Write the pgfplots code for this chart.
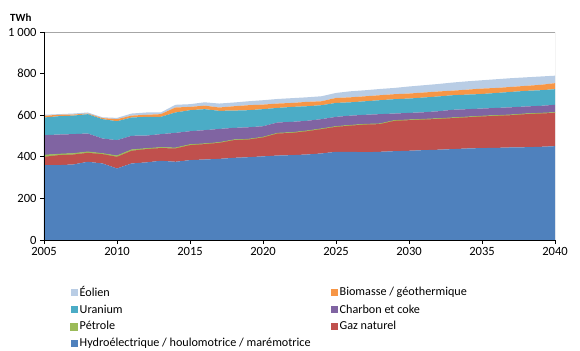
\documentclass[border=0pt]{standalone}
\usepackage{fontspec}
\setmainfont{Carlito}
\usepackage{pgfplots}
\pgfplotsset{compat=1.18}
\usepackage{pgfplotstable}

\definecolor{hydro}{HTML}{4F81BD}
\definecolor{gaz}{HTML}{C0504D}
\definecolor{petrole}{HTML}{9BBB59}
\definecolor{charbon}{HTML}{8064A2}
\definecolor{uranium}{HTML}{4BACC6}
\definecolor{biomasse}{HTML}{F79646}
\definecolor{eolien}{HTML}{B9CDE5}

% production d'electricite par source (TWh)
\pgfplotstableread{
year hydro gaz petrole charbon uranium biomasse eolien
2005 360 40 8 96 85 8 5
2006 360 48 5 94 88 7 3
2007 363 48 5 93 89 5 5
2008 376 43 5 88 93 3 5
2009 368 45 3 72 93 5 4
2010 344 56 5 75 91 10 6
2011 368 61 5 67 88 9 10
2012 373 64 3 62 90 10 11
2013 381 61 3 64 83 13 8
2014 376 64 3 72 98 24 13
2015 384 72 3 64 101 16 13
2016 387 74 2 65 101 17 16
2017 390 77 2 65 87 16 19
2018 395 85 2 57 83 21 18
2019 398 85 2 57 82 24 19
2020 402 91 2 52 82 22 21
2021 406 106 2 51 70 21 22
2022 408 107 2 51 72 19 23
2023 411 112 2 48 70 21 22
2024 416 117 2 46 67 19 24
2025 424 120 2 46 67 24 24
2026 424 126 2 46 64 24 29
2027 422 133 2 45 65 24 29
2028 424 133 2 46 67 24 30
2029 427 146 2 33 69 24 30
2030 429 147 2 33 69 24 34
2031 432 147 2 33 71 24 35
2032 434 148 2 35 71 24 36
2033 437 149 2 38 70 22 39
2034 440 150 2 37 70 24 40
2035 442 152 2 36 70 26 40
2036 443 154 2 36 72 24 42
2037 445 155 2 36 74 24 42
2038 446 159 2 35 75 24 41
2039 448 160 2 35 75 26 40
2040 451 160 2 37 75 29 36
}\mix

\begin{document}
\begin{tikzpicture}
\begin{axis}[
  scale only axis, width=511bp, height=208bp,
  xmin=2005, xmax=2040, ymin=0, ymax=1000,
  stack plots=y, area style,
  axis x line*=bottom, axis y line*=left,
  axis line style={black, line width=0.8pt},
  xtick={2005,2010,...,2040}, ytick={0,200,...,1000},
  tick align=outside, major tick length=4bp,
  tick style={black, line width=0.8pt},
  font=\fontsize{12.6}{15}\selectfont,
  /pgf/number format/assume math mode=true,
  xticklabel style={/pgf/number format/1000 sep={}},
  yticklabel style={/pgf/number format/1000 sep={\ }},
  reverse legend,
  legend columns=2,
  legend cell align=left,
  legend style={draw=none, fill=none, inner sep=0pt,
    at={(0.051,-0.212)}, anchor=north west,
    font=\fontsize{12.2}{14.6}\selectfont,
    row sep=2.8bp,
    /tikz/every even column/.append style={column sep=18bp}},
  legend image code/.code={\fill[#1] (0bp,-3.5bp) rectangle (7bp,3.5bp);},
]
\addplot[fill=hydro, draw=none] table[x=year, y=hydro]{\mix} \closedcycle;
\addlegendentry{Hydroélectrique / houlomotrice / marémotrice}
\addplot[fill=gaz, draw=none] table[x=year, y=gaz]{\mix} \closedcycle;
\addlegendentry{Gaz naturel}
\addplot[fill=petrole, draw=petrole, line width=0.5pt] table[x=year, y=petrole]{\mix} \closedcycle;
\addlegendentry{Pétrole}
\addplot[fill=charbon, draw=none] table[x=year, y=charbon]{\mix} \closedcycle;
\addlegendentry{Charbon et coke}
\addplot[fill=uranium, draw=none] table[x=year, y=uranium]{\mix} \closedcycle;
\addlegendentry{Uranium}
\addplot[fill=biomasse, draw=none] table[x=year, y=biomasse]{\mix} \closedcycle;
\addlegendentry{Biomasse / géothermique}
\addplot[fill=eolien, draw=none] table[x=year, y=eolien]{\mix} \closedcycle;
\addlegendentry{Éolien}
\draw[gray!70, line width=0.8pt] (rel axis cs:0,1) -- (rel axis cs:1,1) -- (rel axis cs:1,0);
\coordinate (O) at (rel axis cs:0,0);
\coordinate (T) at (rel axis cs:0,1);
\end{axis}
\node[anchor=south west, font=\bfseries\fontsize{11}{13}\selectfont, inner sep=0pt] at ([xshift=-34bp, yshift=10bp]T) {TWh};
\path (O) ++(-44bp,-111bp) rectangle ++(580bp,351bp);
\end{tikzpicture}
\end{document}
